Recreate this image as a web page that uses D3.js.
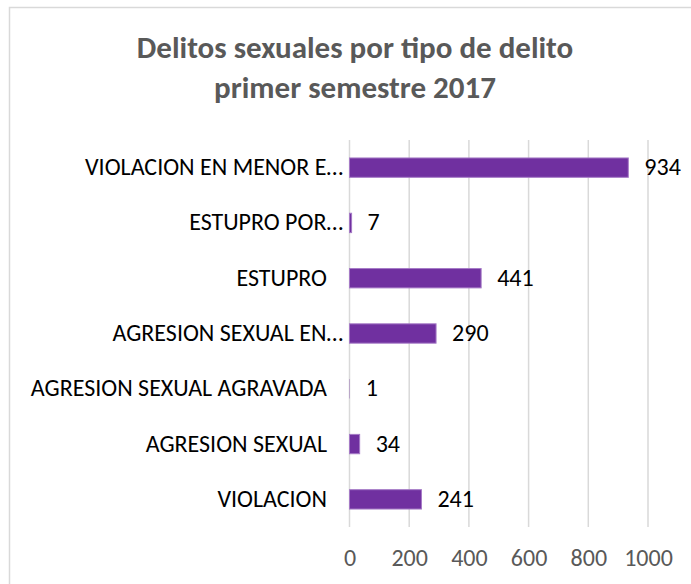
<!DOCTYPE html>
<html>
<head>
<meta charset="utf-8">
<script src="https://cdn.jsdelivr.net/npm/d3@7"></script>
<style>
  body { margin: 0; background: #fff; }
  text { font-family: Carlito, Calibri, Lato, sans-serif; }
</style>
</head>
<body>
<div id="chart"></div>
<script>
// Chart data (labels as shown, truncated like the original)
const categories = [
    "VIOLACION EN MENOR E…",
    "ESTUPRO POR…",
    "ESTUPRO",
    "AGRESION SEXUAL EN…",
    "AGRESION SEXUAL AGRAVADA",
    "AGRESION SEXUAL",
    "VIOLACION"
];
const values = [934, 7, 441, 290, 1, 34, 241];
const xTicks = [0, 200, 400, 600, 800, 1000];
const titleLines = ["Delitos sexuales por tipo de delito", "primer semestre 2017"];

const data = categories.map((c, i) => ({ name: c, value: values[i] }));

// SVG size
const width = 691;
const height = 584;
const margin = { top: 140, right: 43, bottom: 57, left: 349.5 };

const svg = d3.select("#chart")
    .append("svg")
    .attr("width", width)
    .attr("height", height);

// Chart border (runs off the right and bottom edges like the picture)
svg.append("rect")
    .attr("x", 9.5)
    .attr("y", 7.5)
    .attr("width", width + 20)
    .attr("height", height + 20)
    .attr("fill", "none")
    .attr("stroke", "#d9d9d9")
    .attr("stroke-width", 1.5);

// Scales
const xScale = d3.scaleLinear()
    .domain([0, 1000])
    .range([margin.left, width - margin.right]);

const yScale = d3.scaleBand()
    .domain(categories)
    .range([margin.top, height - margin.bottom])
    .paddingInner(0.65)
    .paddingOuter(0.325);

// Gridlines
svg.append("g")
    .selectAll("line")
    .data(xTicks)
    .enter()
    .append("line")
    .attr("x1", d => xScale(d))
    .attr("x2", d => xScale(d))
    .attr("y1", margin.top)
    .attr("y2", height - margin.bottom)
    .attr("stroke", "#d9d9d9")
    .attr("stroke-width", 1.5);

// Bars (no outline on bars thinner than a pixel, they vanish in the original)
svg.append("g")
    .selectAll("rect")
    .data(data)
    .enter()
    .append("rect")
    .attr("x", xScale(0))
    .attr("y", d => yScale(d.name))
    .attr("width", d => xScale(d.value) - xScale(0))
    .attr("height", yScale.bandwidth())
    .attr("fill", "#7030a0")
    .attr("stroke", d => xScale(d.value) - xScale(0) < 1 ? "none" : "#a57ac6")
    .attr("stroke-width", 1);

// Value labels
svg.append("g")
    .selectAll("text")
    .data(data)
    .enter()
    .append("text")
    .attr("x", d => xScale(d.value) + 16)
    .attr("y", d => yScale(d.name) + yScale.bandwidth() / 2 + 7.5)
    .style("font-size", "24px")
    .style("fill", "#000")
    .text(d => d.value);

// Category labels (truncated ones sit a little further right, as in Excel)
svg.append("g")
    .selectAll("text")
    .data(data)
    .enter()
    .append("text")
    .attr("x", d => d.name.endsWith("…") ? 343 : 327)
    .attr("y", d => yScale(d.name) + yScale.bandwidth() / 2 + 7.5)
    .style("text-anchor", "end")
    .style("font-size", "24px")
    .style("fill", "#000")
    .text(d => d.name);

// X axis
const xAxis = d3.axisBottom(xScale)
    .tickValues(xTicks)
    .tickSize(0)
    .tickFormat(d3.format("d"));
const gx = svg.append("g")
    .attr("transform", `translate(0,${height - margin.bottom})`)
    .call(xAxis);
gx.select(".domain").remove();
gx.selectAll("text")
    .attr("y", 39)
    .attr("dy", 0)
    .style("font-family", "Carlito, Calibri, Lato, sans-serif")
    .style("font-size", "24px")
    .style("fill", "#595959");

// Title
svg.append("g")
    .selectAll("text")
    .data(titleLines)
    .enter()
    .append("text")
    .attr("x", 355)
    .attr("y", (d, i) => 58 + i * 39.5)
    .style("text-anchor", "middle")
    .style("font-weight", "bold")
    .style("font-size", "31px")
    .style("fill", "#595959")
    .text(d => d);
</script>
</body>
</html>
